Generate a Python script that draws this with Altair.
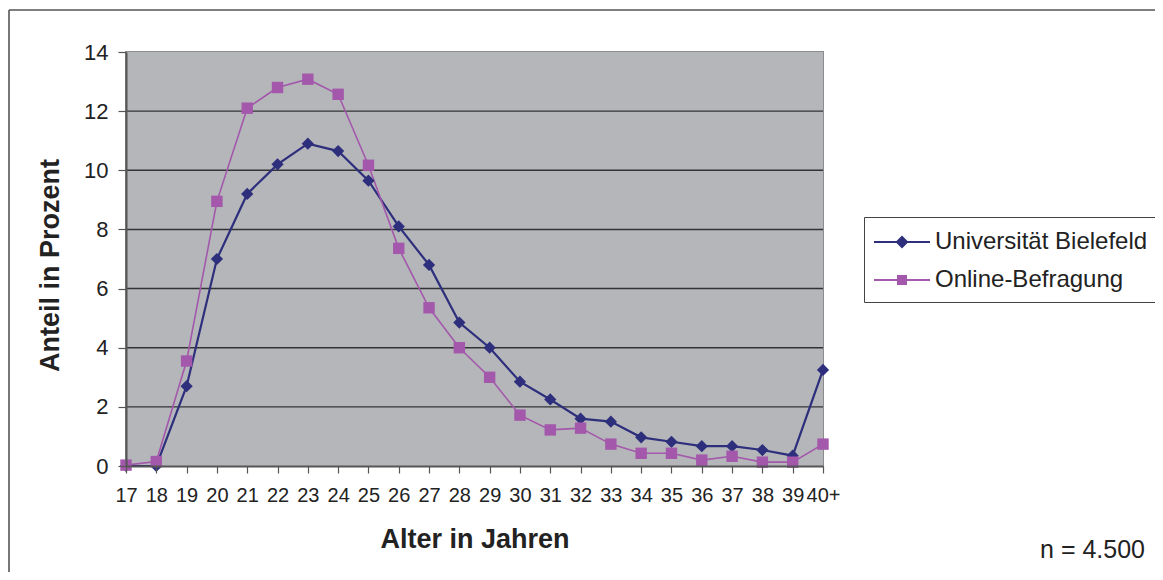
import altair as alt
import pandas as pd

ages = ["17", "18", "19", "20", "21", "22", "23", "24", "25", "26", "27", "28",
        "29", "30", "31", "32", "33", "34", "35", "36", "37", "38", "39", "40+"]
uni_bielefeld = [0.0, 0.0, 2.7, 7.0, 9.2, 10.2, 10.9, 10.65, 9.65, 8.1, 6.8, 4.85,
                 4.0, 2.85, 2.25, 1.6, 1.5, 0.97, 0.82, 0.67, 0.67, 0.54, 0.35, 3.25]
online = [0.03, 0.15, 3.55, 8.95, 12.1, 12.8, 13.08, 12.57, 10.17, 7.36, 5.35, 4.0,
          3.0, 1.72, 1.22, 1.28, 0.74, 0.43, 0.43, 0.2, 0.33, 0.13, 0.13, 0.74]
series = ["Universität Bielefeld", "Online-Befragung"]
colors = ["#2E2F7C", "#A358AB"]
y_ticks = [0, 2, 4, 6, 8, 10, 12, 14]
grid_vals = [2, 4, 6, 8, 10, 12]
note = "n = 4.500"

rows = []
for a, v in zip(ages, uni_bielefeld):
    rows.append({"age": a, "value": v, "series": series[0]})
for a, v in zip(ages, online):
    rows.append({"age": a, "value": v, "series": series[1]})
df = pd.DataFrame(rows)

FONT = "Liberation Sans, Arial, sans-serif"
W, H = 697, 414

x_axis = alt.Axis(
    title="Alter in Jahren",
    labelAngle=0,
    labelFontSize=20,
    labelPadding=12,
    labelOverlap=False,
    tickSize=7,
    titlePadding=21,
    grid=False,
    zindex=1,
)
x_enc = alt.X("age:O", sort=ages, scale=alt.Scale(type="point", domain=ages, padding=0), axis=x_axis)

y_scale = alt.Scale(domain=[0, 14], nice=False, zero=True)
y_axis = alt.Axis(
    title="Anteil in Prozent",
    values=y_ticks,
    labelFontSize=22,
    labelPadding=10,
    tickSize=8,
    titlePadding=19,
    titleY=213,
    grid=False,
    zindex=1,
)
y_enc = alt.Y("value:Q", scale=y_scale, axis=y_axis)

color_plain = alt.Color("series:N", scale=alt.Scale(domain=series, range=colors), legend=None)

leg = alt.Legend(
    title=None,
    orient="none",
    legendX=738,
    legendY=165,
    labelFont=FONT,
    labelFontSize=24,
    labelColor="#222222",
    labelOffset=18,
    labelLimit=500,
    symbolSize=900,
    symbolOffset=13,
    symbolStrokeWidth=0,
    rowPadding=11,
    padding=10,
    strokeColor="#444444",
    fillColor="white",
)

# legend glyphs: a line with the series marker in its middle (unit = 15 px)
path_uni = "M-1.867,-0.073H1.867V0.073H-1.867Z M-0.433,0L0,-0.433L0.433,0L0,0.433Z"
path_onl = "M-1.867,-0.06H1.867V0.06H-1.867Z M-0.333,-0.333H0.333V0.333H-0.333Z"

one = alt.Data(values=[{"k": 0}])
base = alt.Chart(df)

# legend carrier goes first so its legend settings win the merge
legend_layer = base.transform_filter("false").mark_point(filled=True, opacity=1).encode(
    color=alt.Color("series:N", scale=alt.Scale(domain=series, range=colors), legend=leg),
    shape=alt.Shape("series:N", scale=alt.Scale(domain=series, range=[path_uni, path_onl]), legend=leg),
)

bg = alt.Chart(one).mark_rect(fill="#B5B6BA").encode(
    x=alt.value(0), x2=alt.value(W), y=alt.value(0), y2=alt.value(H)
)
grid = alt.Chart(pd.DataFrame({"value": grid_vals})).mark_rule(color="#333333", strokeWidth=1.4).encode(
    y=alt.Y("value:Q", scale=y_scale, axis=y_axis), x=alt.value(0), x2=alt.value(W)
)
frame_top = alt.Chart(one).mark_rule(color="#555555", strokeWidth=1.6).encode(
    x=alt.value(-117), x2=alt.value(1100), y=alt.value(-42)
)
frame_left = alt.Chart(one).mark_rule(color="#555555", strokeWidth=1.6).encode(
    x=alt.value(-117), y=alt.value(-42), y2=alt.value(600)
)

line_uni = base.transform_filter(alt.datum.series == series[0]).mark_line(strokeWidth=2.2).encode(
    x=x_enc, y=y_enc, color=color_plain
)
line_onl = base.transform_filter(alt.datum.series == series[1]).mark_line(strokeWidth=1.6).encode(
    x=x_enc, y=y_enc, color=color_plain
)
pts_uni = base.transform_filter(alt.datum.series == series[0]).mark_point(
    shape="diamond", filled=True, size=150, opacity=1
).encode(x=x_enc, y=y_enc, color=color_plain)
pts_onl = base.transform_filter(alt.datum.series == series[1]).mark_point(
    shape="square", filled=True, size=130, opacity=1
).encode(x=x_enc, y=y_enc, color=color_plain)

note_text = alt.Chart(alt.Data(values=[{"t": note}])).mark_text(
    align="right", baseline="middle", font=FONT, fontSize=25, color="#222222"
).encode(text="t:N", x=alt.value(1019), y=alt.value(498))

chart = alt.layer(
    legend_layer, bg, grid, frame_top, frame_left, line_uni, line_onl, pts_uni, pts_onl, note_text
).properties(
    width=W,
    height=H,
    autosize=alt.AutoSizeParams(type="none"),
    padding={"left": 118, "top": 44, "right": 332, "bottom": 106},
    background="white",
).configure_view(
    stroke="#8C8C8C", strokeWidth=2
).configure_axis(
    labelFont=FONT,
    labelColor="#222222",
    titleFont=FONT,
    titleFontSize=27,
    titleFontWeight="bold",
    titleColor="#222222",
    domainColor="#555555",
    domainWidth=2,
    tickColor="#555555",
    tickWidth=1.2,
)

chart.save("out.html", embed_options={"renderer": "svg", "actions": False})
